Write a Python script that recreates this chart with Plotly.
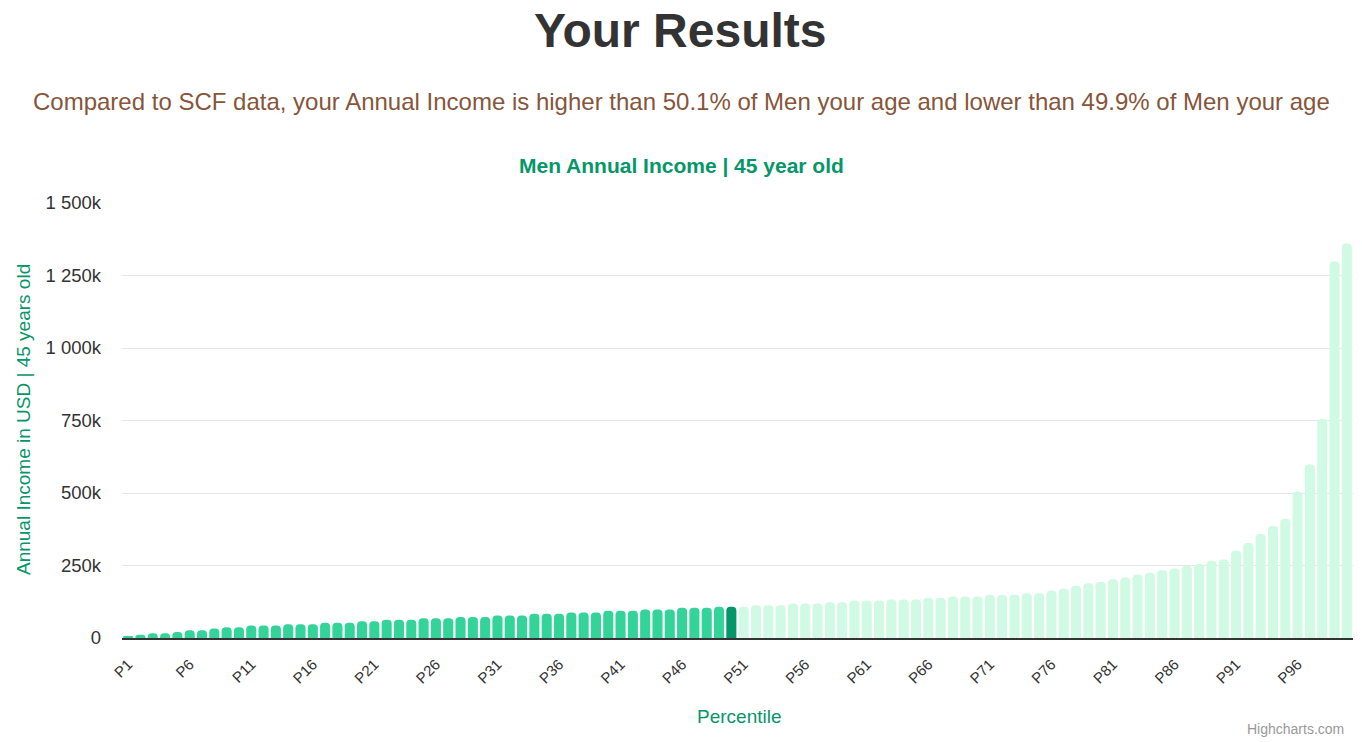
import plotly.graph_objects as go

percentiles = [f"P{i}" for i in range(1, 101)]
income_k = [
    5, 11, 16, 16, 21, 27, 27, 33, 37, 37,
    43, 43, 43, 47, 47, 47, 53, 53, 53, 58,
    58, 63, 63, 63, 68, 68, 68, 72, 72, 72,
    78, 78, 78, 84, 84, 84, 88, 88, 88, 94,
    94, 94, 98, 98, 98, 104, 104, 104, 108, 108,
    108, 113, 113, 113, 119, 119, 119, 123, 123, 129,
    129, 129, 133, 133, 133, 139, 139, 143, 143, 143,
    149, 149, 149, 154, 154, 164, 170, 180, 189, 194,
    203, 209, 219, 225, 234, 240, 249, 255, 266, 271,
    301, 328, 359, 386, 411, 504, 598, 755, 1298, 1360,
]
income = [v * 1000 for v in income_k]
user_percentile = 50

y_tick_vals = [0, 250000, 500000, 750000, 1000000, 1250000, 1500000]
y_tick_text = ["0", "250k", "500k", "750k", "1 000k", "1 250k", "1 500k"]
x_tick_labels = [f"P{i}" for i in range(1, 101, 5)]

below_col = "#34d399"
user_col = "#059669"
above_col = "#d1fae5"
colors = [below_col if i < user_percentile else (user_col if i == user_percentile else above_col)
          for i in range(1, 101)]

FONT = "Liberation Sans, Arial, Helvetica, sans-serif"
GREEN = "#059669"

# page body has an 8px margin; figure is sized to fit inside the window
W, H = 1354, 734
L, R, T, B = 114, 9, 195, 104
PW, PH = W - L - R, H - T - B


def px(x):
    return (x - 8 - L) / PW


def py(y):
    return (H - B - (y - 8)) / PH


fig = go.Figure()
fig.add_trace(go.Bar(
    x=percentiles, y=income,
    marker=dict(color=colors, line=dict(width=0), cornerradius=4),
    hovertemplate="%{x}: %{y:,.0f}<extra></extra>",
))

fig.update_layout(
    width=W, height=H,
    margin=dict(l=L, r=R, t=T, b=B),
    paper_bgcolor="white", plot_bgcolor="white",
    font=dict(family=FONT, color="#333333"),
    bargap=0.18,
    showlegend=False,
    xaxis=dict(
        type="category",
        tickmode="array", tickvals=x_tick_labels, ticktext=x_tick_labels,
        tickangle=-45, tickfont=dict(size=15, color="#333333"),
        showline=True, linecolor="#333333", linewidth=1.5,
        showgrid=False, ticks="", zeroline=False,
        ticklabelstandoff=10,
    ),
    yaxis=dict(
        range=[0, 1500000],
        tickmode="array", tickvals=y_tick_vals, ticktext=y_tick_text,
        tickfont=dict(size=18.5, color="#333333"),
        showgrid=True, gridcolor="#e6e6e6", gridwidth=1,
        zeroline=False, showline=False, ticks="",
        ticklabelstandoff=20,
    ),
    annotations=[
        dict(text="<b>Your Results</b>", xref="paper", yref="paper",
             x=px(680), y=py(31), xanchor="center", yanchor="middle",
             showarrow=False, font=dict(size=48, color="#333333", family=FONT)),
        dict(text="Compared to SCF data, your Annual Income is higher than 50.1% of Men your age and lower than 49.9% of Men your age",
             xref="paper", yref="paper",
             x=px(681), y=py(102), xanchor="center", yanchor="middle",
             showarrow=False, font=dict(size=24, color="#87553a", family=FONT)),
        dict(text="<b>Men Annual Income | 45 year old</b>", xref="paper", yref="paper",
             x=px(681), y=py(166), xanchor="center", yanchor="middle",
             showarrow=False, font=dict(size=21, color=GREEN, family=FONT)),
        dict(text="Annual Income in USD | 45 years old", xref="paper", yref="paper",
             x=px(23), y=py(420), xanchor="center", yanchor="middle", textangle=-90,
             showarrow=False, font=dict(size=19, color=GREEN, family=FONT)),
        dict(text="Percentile", xref="paper", yref="paper",
             x=px(739), y=py(716), xanchor="center", yanchor="middle",
             showarrow=False, font=dict(size=19, color=GREEN, family=FONT)),
        dict(text="Highcharts.com", xref="paper", yref="paper",
             x=px(1346), y=py(729), xanchor="right", yanchor="middle",
             showarrow=False, font=dict(size=14, color="#999999", family=FONT)),
    ],
)

fig.write_html("out.html")
